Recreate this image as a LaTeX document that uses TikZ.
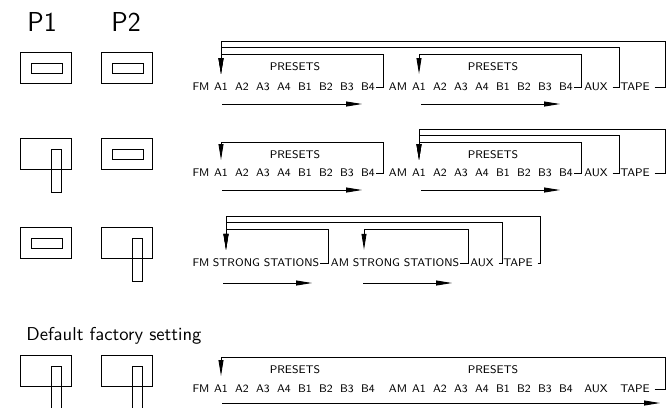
\documentclass[tikz,border=0pt]{standalone}
\usepackage{tikz}
\usetikzlibrary{arrows.meta}
\newcommand{\SwH}[2]{\draw (#1,#2) rectangle ++(51,31) (#1+11,#2+11) rectangle ++(31,10);}
\newcommand{\SwV}[2]{\draw (#1,#2) rectangle ++(51,31) (#1+31,#2+11) rectangle ++(10,43);}
\begin{document}
\begin{tikzpicture}[x=0.02cm,y=-0.02cm,line width=0.5pt,
  every node/.style={inner sep=0.5pt,font=\sffamily\fontsize{6.3}{7}\selectfont},
  >={Triangle[length=9pt,width=2.8pt]}]
\useasboundingbox (0,0) rectangle (666,407);
% switch positions
\node[font=\sffamily\fontsize{15.6}{17}\selectfont] (P1) at (42,22) {P1};
\node[font=\sffamily\fontsize{15.6}{17}\selectfont] (P2) at (126,22) {P2};
\SwH{20}{52} \SwH{101}{52}
\SwV{20}{138} \SwH{101}{138}
\SwH{20}{227} \SwV{101}{227}
\node[anchor=base west,font=\sffamily\fontsize{10.6}{12}\selectfont] (DF) at (25,340) {Default factory setting};
\SwV{20}{355} \SwV{101}{355}
% row 1
\node (PA1) at (295,67) {PRESETS};
\node (PA2) at (493,67) {PRESETS};
\node (A0) at (201,87) {FM};
\node (A1) at (221,87) {A1};
\node (A2) at (242,87) {A2};
\node (A3) at (263,87) {A3};
\node (A4) at (284,87) {A4};
\node (A5) at (305,87) {B1};
\node (A6) at (326,87) {B2};
\node (A7) at (347,87) {B3};
\node (A8) at (368,87) {B4};
\node (A9) at (398,87) {AM};
\node (A10) at (419,87) {A1};
\node (A11) at (440,87) {A2};
\node (A12) at (461,87) {A3};
\node (A13) at (482,87) {A4};
\node (A14) at (503,87) {B1};
\node (A15) at (524,87) {B2};
\node (A16) at (545,87) {B3};
\node (A17) at (566,87) {B4};
\node (A18) at (596,87) {AUX};
\node (A19) at (635,87) {TAPE};
\coordinate (VA1) at (383,54);
\coordinate (VA2) at (581,54);
\coordinate (VA3) at (619,47.5);
\coordinate (VA4) at (665,41);
\draw[->,shorten >=4.5pt] (A8.east) -| (VA1) -| (A1.north);
\draw[->,shorten >=4.5pt] (A17.east) -| (VA2) -| (A10.north);
\draw[->,shorten >=4.5pt,shorten <=2pt] (A18.east) -| (VA3) -| (A1.north);
\draw[->,shorten >=4.5pt,shorten <=2pt] (A19.east) -| (VA4) -| (A1.north);
\coordinate (LA1) at (222,104);
\coordinate (LA2) at (362,104);
\coordinate (LA3) at (421,104);
\coordinate (LA4) at (560,104);
\draw[->] (LA1) -- (LA2);
\draw[->] (LA3) -- (LA4);
% row 2
\node (PB1) at (295,155) {PRESETS};
\node (PB2) at (493,155) {PRESETS};
\node (B0) at (201,173) {FM};
\node (B1) at (221,173) {A1};
\node (B2) at (242,173) {A2};
\node (B3) at (263,173) {A3};
\node (B4) at (284,173) {A4};
\node (B5) at (305,173) {B1};
\node (B6) at (326,173) {B2};
\node (B7) at (347,173) {B3};
\node (B8) at (368,173) {B4};
\node (B9) at (398,173) {AM};
\node (B10) at (419,173) {A1};
\node (B11) at (440,173) {A2};
\node (B12) at (461,173) {A3};
\node (B13) at (482,173) {A4};
\node (B14) at (503,173) {B1};
\node (B15) at (524,173) {B2};
\node (B16) at (545,173) {B3};
\node (B17) at (566,173) {B4};
\node (B18) at (596,173) {AUX};
\node (B19) at (635,173) {TAPE};
\coordinate (VB1) at (383,142);
\coordinate (VB2) at (581,142);
\coordinate (VB3) at (619,135.5);
\coordinate (VB4) at (665,129);
\draw[->,shorten >=4.5pt] (B8.east) -| (VB1) -| (B1.north);
\draw[->,shorten >=4.5pt] (B17.east) -| (VB2) -| (B10.north);
\draw[->,shorten >=4.5pt,shorten <=2pt] (B18.east) -| (VB3) -| (B10.north);
\draw[->,shorten >=4.5pt,shorten <=2pt] (B19.east) -| (VB4) -| (B10.north);
\coordinate (LB1) at (222,190);
\coordinate (LB2) at (362,190);
\coordinate (LB3) at (421,190);
\coordinate (LB4) at (560,190);
\draw[->] (LB1) -- (LB2);
\draw[->] (LB3) -- (LB4);
% row 3
\node (C0) at (201,263) {FM};
\node (C1) at (266,263) {STRONG STATIONS};
\node (C2) at (340,263) {AM};
\node (C3) at (406,263) {STRONG STATIONS};
\node (C4) at (482,263) {AUX};
\node (C5) at (518,263) {TAPE};
\coordinate (SC1) at (226,0);
\coordinate (SC2) at (364,0);
\coordinate (VC1) at (328,229);
\coordinate (VC2) at (468,229);
\coordinate (VC3) at (502,222.5);
\coordinate (VC4) at (540,216);
\draw[->,shorten >=4.5pt] (C1.east) -| (VC1) -| (SC1 |- C1.north);
\draw[->,shorten >=4.5pt] (C3.east) -| (VC2) -| (SC2 |- C3.north);
\draw[->,shorten >=4.5pt,shorten <=2pt] (C4.east) -| (VC3) -| (SC1 |- C1.north);
\draw[->,shorten >=4.5pt,shorten <=2pt] (C5.east) -| (VC4) -| (SC1 |- C1.north);
\coordinate (LC1) at (223,283);
\coordinate (LC2) at (312,283);
\coordinate (LC3) at (363,283);
\coordinate (LC4) at (452,283);
\draw[->] (LC1) -- (LC2);
\draw[->] (LC3) -- (LC4);
% row 4
\node (PD1) at (295,370) {PRESETS};
\node (PD2) at (493,370) {PRESETS};
\node (D0) at (201,389) {FM};
\node (D1) at (221,389) {A1};
\node (D2) at (242,389) {A2};
\node (D3) at (263,389) {A3};
\node (D4) at (284,389) {A4};
\node (D5) at (305,389) {B1};
\node (D6) at (326,389) {B2};
\node (D7) at (347,389) {B3};
\node (D8) at (368,389) {B4};
\node (D9) at (398,389) {AM};
\node (D10) at (419,389) {A1};
\node (D11) at (440,389) {A2};
\node (D12) at (461,389) {A3};
\node (D13) at (482,389) {A4};
\node (D14) at (503,389) {B1};
\node (D15) at (524,389) {B2};
\node (D16) at (545,389) {B3};
\node (D17) at (566,389) {B4};
\node (D18) at (596,389) {AUX};
\node (D19) at (635,389) {TAPE};
\coordinate (VD1) at (665,357);
\draw[->,shorten >=4.5pt,shorten <=2pt] (D19.east) -| (VD1) -| (D1.north);
\coordinate (LD1) at (222,403);
\coordinate (LD2) at (660,403);
\draw[->] (LD1) -- (LD2);
\end{tikzpicture}
\end{document}
